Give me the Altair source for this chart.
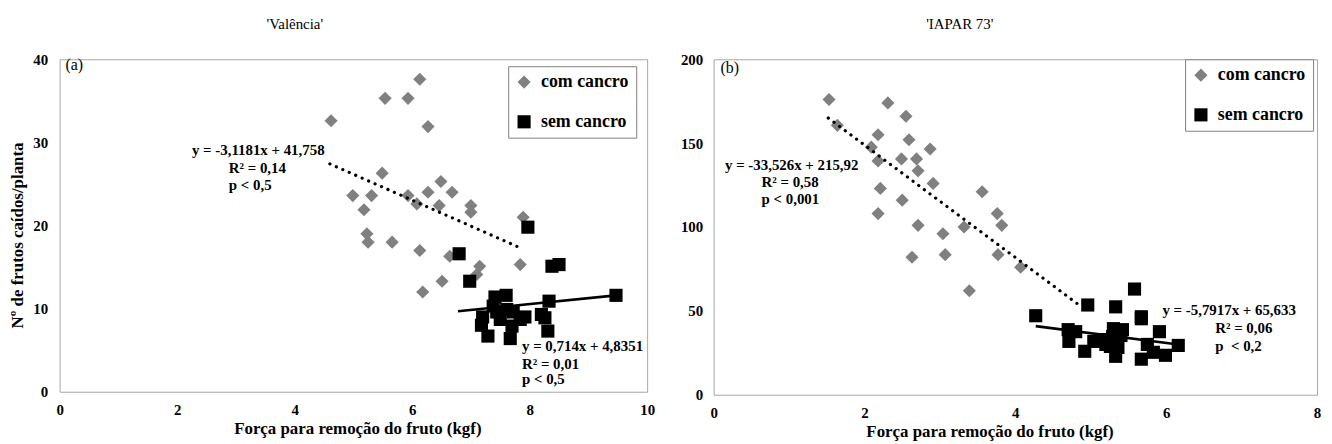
import altair as alt
import pandas as pd

# ---------------- data: 'Valência' (a) ----------------
val_com_x = [4.62, 5.54, 5.93, 6.13, 6.27, 5.49, 4.99, 5.31, 5.18, 5.93, 6.08, 6.27, 6.49, 6.68,
             6.46, 7.00, 7.00, 7.89, 5.23, 5.25, 5.66, 6.13, 6.64, 7.15, 7.10, 7.84, 6.51, 6.18]
val_com_y = [32.6, 35.3, 35.3, 37.6, 31.9, 26.3, 23.6, 23.6, 21.9, 23.6, 22.6, 24.0, 25.3, 24.0,
             22.4, 22.4, 21.6, 21.0, 19.0, 18.0, 18.0, 17.0, 16.3, 15.1, 14.1, 15.3, 13.3, 12.0]
val_sem_x = [7.97, 6.80, 6.98, 8.38, 8.50, 9.47, 8.33, 7.41, 7.60, 7.20, 7.18, 7.29, 7.67, 7.70,
             7.50, 7.92, 8.20, 8.26, 8.31, 7.72, 7.44, 7.84, 7.38, 7.61]
val_sem_y = [19.8, 16.6, 13.3, 15.1, 15.3, 11.6, 10.9, 11.4, 11.6, 9.0, 8.0, 6.7, 6.4, 7.9,
             8.7, 9.0, 9.3, 8.9, 7.3, 9.6, 9.6, 8.7, 10.3, 9.9]

# ---------------- data: 'IAPAR 73' (b) ----------------
iap_com_x = [1.53, 1.64, 2.31, 2.55, 2.18, 2.59, 2.09, 2.87, 2.18, 2.49, 2.69, 2.71, 2.91, 2.21,
             3.56, 2.50, 2.18, 3.76, 3.82, 2.71, 3.32, 3.04, 3.77, 4.07, 2.63, 3.07, 3.39]
iap_com_y = [176, 160.6, 174, 166, 155, 152, 147.6, 146.5, 139.4, 140.6, 140.6, 133.5, 126, 123,
             121, 116, 108, 108, 101, 101, 100, 96, 83.5, 76, 82, 83.5, 62]
iap_sem_x = [5.58, 4.96, 5.33, 5.67, 5.67, 5.91, 4.27, 4.70, 4.80, 4.71, 5.30, 5.42, 5.29, 5.04,
             5.20, 5.26, 5.36, 4.92, 5.33, 5.75, 5.83, 5.99, 5.67, 6.16, 5.40, 5.16]
iap_sem_y = [63, 53.5, 52.4, 45.3, 46.5, 37.6, 47.1, 38.8, 37.6, 31.8, 39.4, 38.8, 34.7, 31.8,
             30, 28.8, 28.2, 25.9, 22.9, 30, 25.3, 23.5, 21.2, 29.4, 35.3, 32.9]

# ---------------- regression lines (from the printed equations) ----------------
groups = ["com cancro", "sem cancro"]
val_slope = [-3.1181, 0.714]
val_intercept = [41.758, 4.8351]
val_xmin = [4.60, 6.78]
val_xmax = [7.89, 9.47]
iap_slope = [-33.526, -5.7917]
iap_intercept = [215.92, 65.633]
iap_xmin = [1.52, 4.27]
iap_xmax = [4.84, 6.16]

# ---------------- annotations ----------------
val_notes = ["y = -3,1181x + 41,758", "R² = 0,14", "p < 0,5",
             "y = 0,714x + 4,8351", "R² = 0,01", "p < 0,5", "(a)"]
val_note_x = [4.51, 2.88, 2.88, 7.87, 7.87, 7.87, 0.10]
val_note_y = [29.1, 26.9, 24.9, 5.5, 3.35, 1.56, 39.3]
val_note_align = ["right", "left", "left", "left", "left", "left", "left"]
iap_notes = ["y = -33,526x + 215,92", "R² = 0,58", "p < 0,001",
             "y = -5,7917x + 65,633", "R² = 0,06", "p\u00a0 < 0,2", "(b)"]
iap_note_x = [1.92, 0.635, 0.635, 5.95, 6.65, 6.65, 0.09]
iap_note_y = [137, 127, 116.5, 50.6, 40, 28.8, 194.7]
iap_note_align = ["right", "left", "left", "left", "left", "left", "left"]
note_bold = [True, True, True, True, True, True, False]

FONT = "Liberation Serif, Times New Roman, DejaVu Serif, serif"
GRAY = "#808080"
BORDER = "#a6a6a6"


def points_df(cx, cy, sx, sy):
    return pd.DataFrame({
        "x": cx + sx,
        "y": cy + sy,
        "grupo": ["com cancro"] * len(cx) + ["sem cancro"] * len(sx),
    })


def lines_df(slope, intercept, xmin, xmax):
    rows = []
    for g, m, b, a, z in zip(groups, slope, intercept, xmin, xmax):
        rows.append({"grupo": g, "x": a, "y": m * a + b})
        rows.append({"grupo": g, "x": z, "y": m * z + b})
    return pd.DataFrame(rows)


def notes_df(texts, xs, ys, aligns):
    return pd.DataFrame({"t": texts, "x": xs, "y": ys, "bold": note_bold, "al": aligns})


def panel(title, title_dx, pts, lns, notes, xmax, xticks, ymax, yticks,
          width, height, ytitle, legend_x, legend_y, xtitle_x, ytitle_y):
    xscale = alt.Scale(domain=[0, xmax], nice=False, zero=True)
    yscale = alt.Scale(domain=[0, ymax], nice=False, zero=True)
    xaxis = alt.Axis(values=xticks, format="d", title="Força para remoção do fruto (kgf)",
                     grid=False, ticks=False, domain=False, labelFlush=False,
                     labelFont=FONT, labelFontWeight="bold",
                     labelFontSize=15, labelColor="black", labelPadding=11,
                     titleFont=FONT, titleFontWeight="bold", titleFontSize=17,
                     titleColor="black", titlePadding=3, titleX=xtitle_x)
    if ytitle:
        yaxis = alt.Axis(values=yticks, format="d", title=ytitle, grid=False, ticks=False,
                         domain=False, labelFlush=False,
                         labelFont=FONT, labelFontWeight="bold", labelFontSize=15,
                         labelColor="black", labelPadding=12, titleFont=FONT,
                         titleFontWeight="bold", titleFontSize=17, titleColor="black",
                         titlePadding=6, titleY=ytitle_y)
    else:
        yaxis = alt.Axis(values=yticks, format="d", title=None, grid=False, ticks=False,
                         domain=False, labelFlush=False,
                         labelFont=FONT, labelFontWeight="bold", labelFontSize=15,
                         labelColor="black", labelPadding=11)

    color = alt.Color("grupo:N", scale=alt.Scale(domain=groups, range=[GRAY, "#000000"]),
                      legend=alt.Legend(title=None, orient="none", legendX=legend_x,
                                        legendY=legend_y))
    shape = alt.Shape("grupo:N", scale=alt.Scale(domain=groups, range=["diamond", "square"]),
                      legend=alt.Legend(title=None, orient="none", legendX=legend_x,
                                        legendY=legend_y))

    pts_layer = alt.Chart(pts).mark_point(filled=True, size=175, opacity=1).encode(
        x=alt.X("x:Q", scale=xscale, axis=xaxis),
        y=alt.Y("y:Q", scale=yscale, axis=yaxis),
        color=color,
        shape=shape,
    )
    dotted = alt.Chart(lns[lns["grupo"] == "com cancro"]).mark_line(
        color="black", strokeWidth=3.2, strokeDash=[0.1, 7], strokeCap="round").encode(
        x=alt.X("x:Q", scale=xscale), y=alt.Y("y:Q", scale=yscale))
    solid = alt.Chart(lns[lns["grupo"] == "sem cancro"]).mark_line(
        color="black", strokeWidth=2.6).encode(
        x=alt.X("x:Q", scale=xscale), y=alt.Y("y:Q", scale=yscale))
    layers = [pts_layer, dotted, solid]
    nb = notes[notes["bold"]]
    for al in ["left", "right"]:
        sub = nb[nb["al"] == al]
        if len(sub):
            layers.append(alt.Chart(sub).mark_text(
                align=al, baseline="middle", font=FONT, fontWeight="bold", fontSize=15,
                color="black").encode(x=alt.X("x:Q", scale=xscale),
                                      y=alt.Y("y:Q", scale=yscale), text="t:N"))
    layers.append(alt.Chart(notes[~notes["bold"]]).mark_text(
        align="left", baseline="middle", font=FONT, fontSize=16, color="black").encode(
        x=alt.X("x:Q", scale=xscale), y=alt.Y("y:Q", scale=yscale), text="t:N"))

    return alt.layer(*layers).properties(
        width=width, height=height,
        title=alt.TitleParams(title, font=FONT, fontSize=15, fontWeight="normal",
                              color="black", anchor="middle", dx=title_dx, offset=21),
    )


left = panel("'Valência'", -59,
             points_df(val_com_x, val_com_y, val_sem_x, val_sem_y),
             lines_df(val_slope, val_intercept, val_xmin, val_xmax),
             notes_df(val_notes, val_note_x, val_note_y, val_note_align),
             10, [0, 2, 4, 6, 8, 10], 40, [0, 10, 20, 30, 40],
             592, 335, "Nº de frutos caídos/planta", 452, 7, 300, 177)
right = panel("'IAPAR 73'", -56,
              points_df(iap_com_x, iap_com_y, iap_sem_x, iap_sem_y),
              lines_df(iap_slope, iap_intercept, iap_xmin, iap_xmax),
              notes_df(iap_notes, iap_note_x, iap_note_y, iap_note_align),
              8, [0, 2, 4, 6, 8], 200, [0, 50, 100, 150, 200],
              608, 338, None, 475, 0, 278, 170)

chart = alt.hconcat(left, right, spacing=25).resolve_scale(
    color="independent", shape="independent").properties(
    padding={"left": 0, "top": 6, "right": 2, "bottom": 5},
    background="white",
).configure_view(stroke=BORDER, strokeWidth=1).configure_legend(
    strokeColor=GRAY, fillColor="white", padding=7, labelFont=FONT, labelFontWeight="bold",
    labelFontSize=18, labelColor="black", symbolSize=175, symbolStrokeWidth=0,
    rowPadding=22, labelOffset=8, symbolOpacity=1,
)

chart.save("out.html", embed_options={"renderer": "svg", "actions": False})
